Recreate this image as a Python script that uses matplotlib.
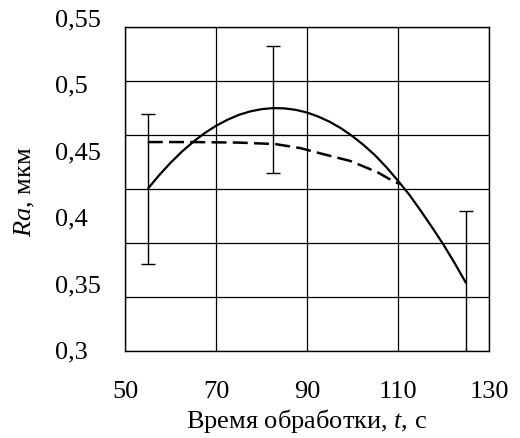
import matplotlib
matplotlib.use("Agg")
import matplotlib.pyplot as plt
import numpy as np

plt.rcParams['font.family'] = ['Liberation Serif', 'DejaVu Serif']
plt.rcParams['mathtext.fontset'] = 'custom'
plt.rcParams['mathtext.it'] = 'Liberation Serif:italic'
plt.rcParams['mathtext.rm'] = 'Liberation Serif'

# Solid curve (model)
t_solid = [55, 57.5, 60, 62.5, 65, 67.5, 70, 72.5, 75, 77.5, 80, 82.5, 85, 87.5, 90,
           92.5, 95, 97.5, 100, 102.5, 105, 107.5, 110, 112.5, 115, 117.5, 120, 122.5, 125]
ra_solid = [0.4225, 0.4327, 0.442, 0.4504, 0.4578, 0.4643, 0.4698, 0.4743, 0.478, 0.4806,
            0.4823, 0.4831, 0.4829, 0.4818, 0.4798, 0.4767, 0.4728, 0.4679, 0.462, 0.4552,
            0.4475, 0.4385, 0.4285, 0.418, 0.406, 0.3935, 0.3805, 0.3664, 0.3514]

# Dashed curve
t_dash = [55, 65, 75, 83, 88.5, 93.5, 99.5, 105.4, 108.9, 110.4]
ra_dash = [0.4576, 0.4576, 0.4572, 0.4561, 0.4531, 0.4486, 0.4434, 0.4351, 0.4283, 0.4261]

# Experimental points with error bars
t_exp = [55, 82.5, 125]
ra_exp = [0.4225, 0.4822, 0.3514]
ra_err = [0.0562, 0.0479, 0.0548]

x_ticks = [50, 70, 90, 110, 130]
y_tick_vals = [0.3, 0.35, 0.4, 0.45, 0.5, 0.55]
y_tick_labels = ["0,3", "0,35", "0,4", "0,45", "0,5", "0,55"]
ylim = (0.3007, 0.544)

fig = plt.figure(figsize=(5.2, 4.39), dpi=100)
ax = fig.add_axes([0.2404, 0.1982, 0.700, 0.738])

ax.set_xlim(50, 130)
ax.set_ylim(*ylim)

# grid
ax.set_xticks(x_ticks)
ax.set_xticklabels([str(v) for v in x_ticks], fontsize=19)
ax.set_yticks(np.linspace(ylim[0], ylim[1], 7))
ax.set_yticklabels([])
ax.tick_params(axis='both', length=0)
ax.tick_params(axis='x', pad=21)
ax.grid(True, color='black', linewidth=0.9)
ax.set_axisbelow(True)
for s in ax.spines.values():
    s.set_color('black')
    s.set_linewidth(1.0)

# y labels (Excel-like placement)
tr = ax.get_yaxis_transform()
for v, lab in zip(y_tick_vals, y_tick_labels):
    ax.text(-0.1923, v, lab, transform=tr, ha='left', va='center', fontsize=19, clip_on=False)

ax.plot(t_solid, ra_solid, color='black', linewidth=1.6, solid_capstyle='butt')
ax.plot(t_dash, ra_dash, color='black', linewidth=1.8, dashes=(6, 2.5))
ax.errorbar(t_exp, ra_exp, yerr=ra_err, fmt='none', ecolor='black', elinewidth=1.0,
            capsize=4.7, capthick=1.0)

ax.set_xlabel(r"Время обработки, $\it{t}$, с", fontsize=19, labelpad=3)
fig.text(25 / 520, 1 - 192 / 439, r"$\it{Ra}$, мкм", rotation=90, ha='center', va='center', fontsize=19)

fig.savefig("out.png", dpi=100)
